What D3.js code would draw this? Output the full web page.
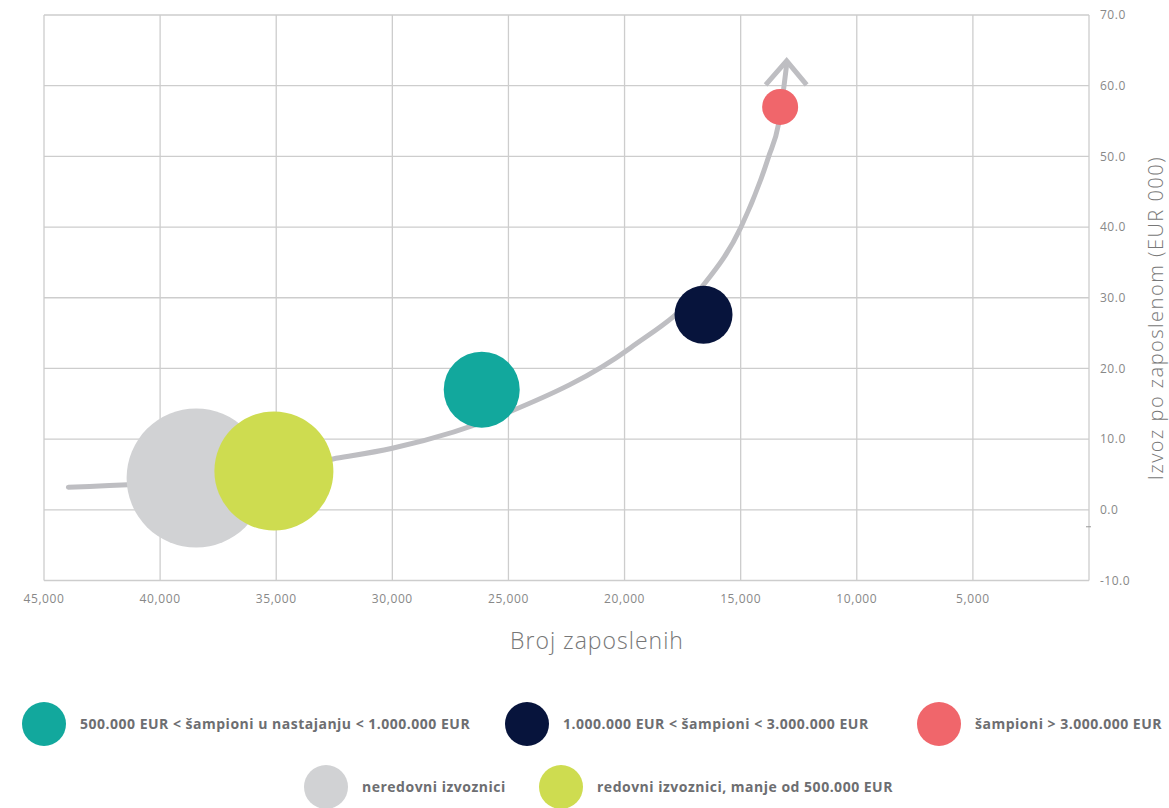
<!DOCTYPE html>
<html>
<head>
<meta charset="utf-8">
<script src="https://cdn.jsdelivr.net/npm/d3@7"></script>
<style>
  body { margin: 0; background: #fff; }
  svg { display: block; }
</style>
</head>
<body>
<div id="vis"></div>
<script>
const FRAME_WIDTH = 1169;
const FRAME_HEIGHT = 808;
const MARGINS = {left: 44, right: 80, top: 15, bottom: 227.5};

// data
const groups = ["neredovni", "redovni", "nastajanje", "sampioni13", "sampioni3"];
const employees = [38450, 35100, 26150, 16600, 13300];
const exportPerEmp = [4.5, 5.5, 17.0, 27.6, 57.0];
const bubbleSize = [4830, 3540, 1444, 841, 324];
const colors = ["#d1d2d4", "#cedc50", "#12a89d", "#07143c", "#f0666b"];

const trendX = [43950, 38300, 32550, 30000, 25000, 19750, 16700, 15000, 13800, 13360, 13020];
const trendY = [3.2, 4.3, 7.2, 8.7, 13.8, 22.9, 31.4, 39.9, 49.9, 54.7, 63.0];
const arrowTip = [13020, 63.5];

const xTicks = [45000, 40000, 35000, 30000, 25000, 20000, 15000, 10000, 5000];
const yTicks = [-10, 0, 10, 20, 30, 40, 50, 60, 70];

const legendRow1 = [
  {label: "500.000 EUR < šampioni u nastajanju < 1.000.000 EUR", color: "#12a89d"},
  {label: "1.000.000 EUR < šampioni < 3.000.000 EUR", color: "#07143c"},
  {label: "šampioni > 3.000.000 EUR", color: "#f0666b"}
];
const legendRow2 = [
  {label: "neredovni izvoznici", color: "#d1d2d4"},
  {label: "redovni izvoznici, manje od 500.000 EUR", color: "#cedc50"}
];

const SVG = d3.select("#vis").append("svg")
  .attr("width", FRAME_WIDTH)
  .attr("height", FRAME_HEIGHT);

const xScale = d3.scaleLinear()
  .domain([45000, 0])
  .range([MARGINS.left, FRAME_WIDTH - MARGINS.right]);

const yScale = d3.scaleLinear()
  .domain([-10, 70])
  .range([FRAME_HEIGHT - MARGINS.bottom, MARGINS.top]);

const rScale = d3.scaleSqrt()
  .domain([0, d3.max(bubbleSize)])
  .range([0, 69.5]);

// grid
const GRID = "#cdcdcd";
SVG.append("g").selectAll("line.h")
  .data(yTicks)
  .enter().append("line")
    .attr("x1", xScale(45000)).attr("x2", xScale(0))
    .attr("y1", d => yScale(d)).attr("y2", d => yScale(d))
    .attr("stroke", GRID).attr("stroke-width", 1.3);

SVG.append("g").selectAll("line.v")
  .data(xTicks.concat([0]))
  .enter().append("line")
    .attr("x1", d => xScale(d)).attr("x2", d => xScale(d))
    .attr("y1", yScale(70)).attr("y2", yScale(-10))
    .attr("stroke", GRID).attr("stroke-width", 1.3);

// little stray tick on right axis
SVG.append("line")
  .attr("x1", xScale(0) - 3).attr("x2", xScale(0) + 2)
  .attr("y1", yScale(-2.4)).attr("y2", yScale(-2.4))
  .attr("stroke", "#999").attr("stroke-width", 1);

// tick labels
SVG.append("g").selectAll("text")
  .data(xTicks)
  .enter().append("text")
    .attr("x", d => xScale(d))
    .attr("y", yScale(-10) + 22)
    .attr("text-anchor", "middle")
    .attr("font-family", "Open Sans, sans-serif")
    .attr("font-size", 12)
    .attr("letter-spacing", 0.6)
    .attr("fill", "#888")
    .text(d => d3.format(",")(d));

SVG.append("g").selectAll("text")
  .data(yTicks)
  .enter().append("text")
    .attr("x", xScale(0) + 11)
    .attr("y", d => yScale(d))
    .attr("dy", "0.35em")
    .attr("font-family", "Open Sans, sans-serif")
    .attr("font-size", 12)
    .attr("letter-spacing", 0.5)
    .attr("fill", "#888")
    .text(d => d3.format(".1f")(d).replace("\u2212", "-"));

// axis titles
SVG.append("text")
  .attr("x", 597).attr("y", 649)
  .attr("text-anchor", "middle")
  .attr("font-family", "Open Sans, sans-serif")
  .attr("font-weight", 300)
  .attr("font-size", 23)
  .attr("letter-spacing", 1)
  .attr("fill", "#777")
  .text("Broj zaposlenih");

SVG.append("text")
  .attr("transform", "translate(1163,318) rotate(-90)")
  .attr("text-anchor", "middle")
  .attr("font-family", "Open Sans, sans-serif")
  .attr("font-weight", 300)
  .attr("font-size", 20)
  .attr("letter-spacing", 1.5)
  .attr("fill", "#777")
  .text("Izvoz po zaposlenom (EUR 000)");

// trend curve
const trend = trendX.map((d, i) => [d, trendY[i]]);
const line = d3.line()
  .x(d => xScale(d[0]))
  .y(d => yScale(d[1]))
  .curve(d3.curveMonotoneX);

SVG.append("path")
  .datum(trend)
  .attr("d", line)
  .attr("fill", "none")
  .attr("stroke", "#bebec2")
  .attr("stroke-width", 5)
  .attr("stroke-linecap", "round");

// arrow head
const tx = xScale(arrowTip[0]), ty = yScale(arrowTip[1]);
SVG.append("path")
  .attr("d", "M" + (tx - 21) + "," + (ty + 24) + " L" + tx + "," + ty + " L" + (tx + 20) + "," + (ty + 24))
  .attr("fill", "none")
  .attr("stroke", "#bebec2")
  .attr("stroke-width", 5);

// bubbles
SVG.append("g").selectAll("circle")
  .data(groups)
  .enter().append("circle")
    .attr("cx", (d, i) => xScale(employees[i]))
    .attr("cy", (d, i) => yScale(exportPerEmp[i]))
    .attr("r", (d, i) => rScale(bubbleSize[i]))
    .attr("fill", (d, i) => colors[i]);

// legend
function drawLegend(items, xs, cy) {
  const g = SVG.append("g").selectAll("g")
    .data(items)
    .enter().append("g")
      .attr("transform", (d, i) => "translate(" + xs[i] + "," + cy + ")");
  g.append("circle")
    .attr("r", 22)
    .attr("fill", d => d.color);
  g.append("text")
    .attr("x", 36)
    .attr("dy", "0.35em")
    .attr("font-family", "Open Sans, sans-serif")
    .attr("font-weight", 700)
    .attr("font-size", 14)
    .attr("letter-spacing", 0.5)
    .attr("fill", "#6d6e71")
    .text(d => d.label);
}
drawLegend(legendRow1, [44, 527, 939], 724);
drawLegend(legendRow2, [326, 561], 787);
</script>
</body>
</html>
